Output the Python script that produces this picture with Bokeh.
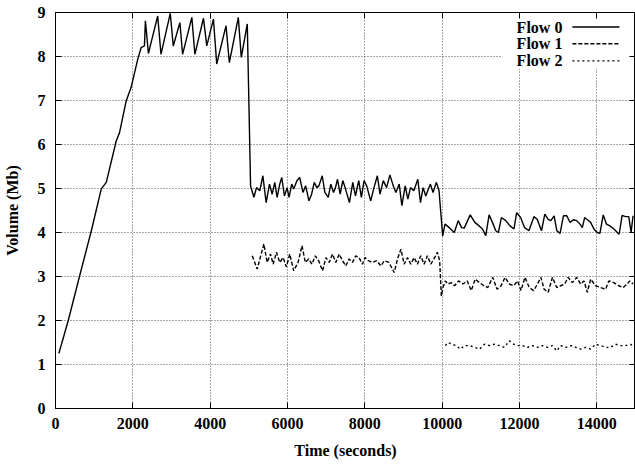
from bokeh.plotting import figure
from bokeh.models import (FixedTicker, LinearAxis, Label, Arrow, BoxAnnotation,
                          Range1d, CustomJSTickFormatter)
from bokeh.embed import file_html
from bokeh.resources import INLINE

# ---------------- data ----------------
x_ticks = [0, 2000, 4000, 6000, 8000, 10000, 12000, 14000]
y_ticks = [0, 1, 2, 3, 4, 5, 6, 7, 8, 9]
series_names = ["Flow 0", "Flow 1", "Flow 2"]

flow0_t = [86, 330, 620, 927, 1184, 1313, 1570, 1656, 1828, 1956, 2128, 2214, 2300,
           2325, 2403, 2643, 2728, 2968, 3046, 3217, 3287, 3526, 3604, 3827, 3912,
           4084, 4170, 4410, 4496, 4728, 4805, 4960,
           5045, 5131, 5199, 5285, 5363, 5448, 5534, 5603, 5671, 5731, 5800, 5852,
           5920, 5989, 6040, 6109, 6160, 6246, 6315, 6401, 6469, 6555, 6624, 6692,
           6761, 6812, 6898, 6967, 7053, 7121, 7190, 7241, 7293, 7362, 7430, 7490,
           7602, 7688, 7757, 7842, 7911, 7980, 8048, 8151, 8237, 8323, 8392, 8477,
           8563, 8649, 8735, 8803, 8889, 8958, 9044, 9112, 9181, 9267, 9370, 9439,
           9507, 9576, 9644, 9696, 9764, 9850, 9919,
           10013, 10073, 10185, 10313, 10416, 10502, 10570, 10725, 10845, 10957,
           11043, 11128, 11214, 11300, 11386, 11454, 11532, 11643, 11755, 11858,
           11926, 12029, 12132, 12244, 12373, 12458,
           12569, 12655, 12741, 12810, 12896, 12964, 13050, 13136, 13222, 13307,
           13393, 13479, 13565, 13625, 13685, 13754, 13840, 13925, 14011, 14080,
           14165, 14251, 14337, 14440, 14577, 14654, 14740, 14826, 14886, 14937]
flow0_v = [1.25, 2.00, 3.00, 4.04, 4.99, 5.14, 6.08, 6.27, 6.99, 7.30, 7.94, 8.20, 8.24,
           8.81, 8.07, 8.92, 8.05, 8.98, 8.24, 8.77, 8.05, 8.89, 8.05, 8.87, 8.24,
           8.85, 7.83, 8.70, 7.86, 8.89, 7.98, 8.74,
           5.06, 4.80, 5.02, 4.95, 5.29, 4.68, 5.10, 4.87, 5.14, 4.80, 5.10, 5.25,
           4.83, 5.02, 4.80, 5.10, 4.99, 5.18, 5.25, 4.91, 5.06, 4.72, 4.87, 5.14,
           5.02, 5.06, 5.29, 4.91, 4.80, 5.10, 4.91, 5.02, 5.21, 4.87, 5.18, 5.02,
           4.68, 5.14, 4.83, 5.18, 4.80, 5.18, 5.06, 4.72, 5.02, 5.29, 4.87, 5.18,
           5.02, 5.31, 5.06, 4.91, 5.10, 4.61, 5.06, 4.76, 5.02, 4.95, 5.21, 4.68,
           5.02, 4.83, 4.99, 5.10, 4.91, 5.14, 4.95,
           3.92, 4.19, 4.11, 4.00, 4.27, 4.11, 4.10, 4.40, 4.23, 4.15,
           4.08, 3.93, 4.40, 4.23, 4.04, 4.00, 4.34, 4.27, 4.15, 4.08,
           4.45, 4.34, 4.11, 4.04, 4.36, 4.30,
           4.04, 4.42, 4.30, 4.27, 4.38, 4.04, 3.98, 4.38, 4.38, 4.23,
           4.29, 4.27, 4.19, 4.11, 4.34, 4.29, 4.23, 4.08, 4.00, 3.98,
           4.40, 4.19, 4.15, 4.08, 3.96, 4.39, 4.36, 4.36, 4.00, 4.38]

flow1_t = [5088, 5217, 5389, 5474, 5560, 5629, 5714, 5800, 5886, 5972, 6057, 6160,
           6273, 6375, 6461, 6546, 6632, 6718, 6804, 6907, 6993, 7079, 7164, 7250,
           7336, 7422, 7507, 7593, 7679, 7765, 7851, 7937, 8005, 8091, 8194, 8305,
           8417, 8502, 8623, 8760, 8846, 8932, 9017, 9103, 9189, 9275, 9360, 9446,
           9532, 9618, 9704, 9789, 9875, 9935, 9979,
           10021, 10082, 10150, 10236, 10322, 10425, 10536, 10648, 10751, 10854,
           10965, 11077, 11180, 11308, 11420, 11523, 11626, 11737, 11849, 11952,
           12038, 12141, 12252, 12364, 12467, 12553, 12638, 12741, 12852, 12964,
           13067, 13170, 13256, 13367, 13479, 13582, 13668, 13754, 13840, 13968,
           14097, 14226, 14311, 14440, 14569, 14680, 14783, 14852, 14937]
flow1_v = [3.47, 3.17, 3.74, 3.32, 3.51, 3.28, 3.55, 3.32, 3.43, 3.22, 3.51, 3.13,
           3.32, 3.70, 3.32, 3.40, 3.28, 3.47, 3.36, 3.13, 3.43, 3.32, 3.51, 3.32,
           3.51, 3.36, 3.24, 3.40, 3.32, 3.47, 3.43, 3.28, 3.43, 3.36, 3.32, 3.36,
           3.24, 3.36, 3.32, 3.09, 3.40, 3.62, 3.28, 3.43, 3.28, 3.43, 3.28, 3.47,
           3.28, 3.47, 3.28, 3.40, 3.55, 3.36, 2.56,
           2.75, 2.90, 2.83, 2.86, 2.79, 2.90, 2.83, 2.90, 2.68, 2.94,
           2.86, 2.79, 2.75, 2.98, 2.71, 2.79, 2.98, 2.83, 2.79, 2.90,
           2.68, 2.98, 2.75, 2.68, 2.83, 2.98, 2.71, 2.64, 2.98, 2.75,
           2.79, 2.83, 2.98, 2.86, 2.98, 2.83, 2.90, 2.64, 2.94, 2.79,
           2.75, 2.71, 2.90, 2.86, 2.79, 2.75, 2.83, 2.90, 2.83]

flow2_t = [10082, 10150, 10253, 10365, 10468, 10579, 10708, 10837, 10965, 11094,
           11223, 11351, 11480, 11609, 11737, 11849, 11969, 12080, 12209, 12338,
           12467, 12595, 12724, 12852, 12964, 13067, 13196, 13325, 13454, 13582,
           13711, 13840, 13968, 14097, 14226, 14354, 14483, 14612, 14740, 14869, 14937]
flow2_v = [1.43, 1.50, 1.46, 1.43, 1.35, 1.43, 1.43, 1.39, 1.35, 1.46,
           1.43, 1.46, 1.43, 1.39, 1.54, 1.46, 1.43, 1.43, 1.39, 1.43,
           1.39, 1.43, 1.39, 1.43, 1.31, 1.43, 1.39, 1.43, 1.39, 1.35,
           1.39, 1.35, 1.46, 1.43, 1.39, 1.39, 1.46, 1.43, 1.43, 1.46, 1.43]

# ---------------- styling ----------------
FONT = "Liberation Serif"
dashes = ["solid", "4 2", "2 3"]

p = figure(width=635, height=464, x_range=Range1d(0, 15000), y_range=Range1d(0, 9),
           output_backend="svg", toolbar_location=None,
           min_border_left=54, min_border_right=0, min_border_top=12, min_border_bottom=56,
           background_fill_color="white", border_fill_color="white")
p.outline_line_color = "black"
p.outline_line_width = 1

p.xaxis.ticker = FixedTicker(ticks=x_ticks)
p.yaxis.ticker = FixedTicker(ticks=y_ticks)
p.xgrid.ticker = FixedTicker(ticks=x_ticks)
p.ygrid.ticker = FixedTicker(ticks=y_ticks)
p.xaxis.axis_label = "Time (seconds)"
p.yaxis.axis_label = "Volume (Mb)"

for ax in (p.xaxis[0], p.yaxis[0]):
    ax.major_label_text_font = FONT
    ax.major_label_text_font_style = "bold"
    ax.major_label_text_font_size = "16px"
    ax.major_label_text_color = "black"
    ax.axis_label_text_font = FONT
    ax.axis_label_text_font_style = "bold"
    ax.axis_label_text_font_size = "16px"
    ax.axis_label_text_color = "black"
    ax.major_tick_in = 6
    ax.major_tick_out = 0
    ax.minor_tick_in = 0
    ax.minor_tick_out = 0
    ax.axis_line_color = "black"
    ax.major_tick_line_color = "black"

p.xaxis[0].major_label_standoff = 9
p.xaxis[0].axis_label_standoff = 10
p.yaxis[0].major_label_standoff = 10
p.yaxis[0].axis_label_standoff = 14

for g in (p.xgrid[0], p.ygrid[0]):
    g.grid_line_color = "#333333"
    g.grid_line_dash = "1 2"
    g.grid_line_width = 1
    g.grid_line_alpha = 0.85

# mirrored ticks on top and right
for loc, ticks in (("above", x_ticks), ("right", y_ticks)):
    ax = LinearAxis(ticker=FixedTicker(ticks=ticks),
                    formatter=CustomJSTickFormatter(code="return ''"),
                    major_tick_in=6, major_tick_out=0, minor_tick_in=0, minor_tick_out=0,
                    major_label_standoff=0, axis_line_color="black",
                    major_tick_line_color="black")
    p.add_layout(ax, loc)

# legend background (hides grid behind the key)
p.add_layout(BoxAnnotation(left=11554, right=14845, bottom=7.72, top=8.97,
                           fill_color="white", fill_alpha=1.0, line_color=None,
                           level="underlay"))

series = [(flow0_t, flow0_v), (flow1_t, flow1_v), (flow2_t, flow2_v)]
for (t, v), dash in zip(series, dashes):
    p.line(t, v, line_color="black", line_width=1.4, line_dash=dash)

# gnuplot-style key: label right-aligned, sample line to its right
key_y = [8.67, 8.29, 7.90]
for name, dash, ky in zip(series_names, dashes, key_y):
    p.add_layout(Label(x=13109, y=ky, text=name, text_align="right",
                       text_baseline="middle", text_font=FONT,
                       text_font_style="bold", text_font_size="16px",
                       text_color="black"))
    p.add_layout(Arrow(end=None, x_start=13368, y_start=ky, x_end=14585, y_end=ky,
                       line_color="black", line_width=1.4, line_dash=dash))

open("out.html", "w").write(file_html(p, INLINE))
